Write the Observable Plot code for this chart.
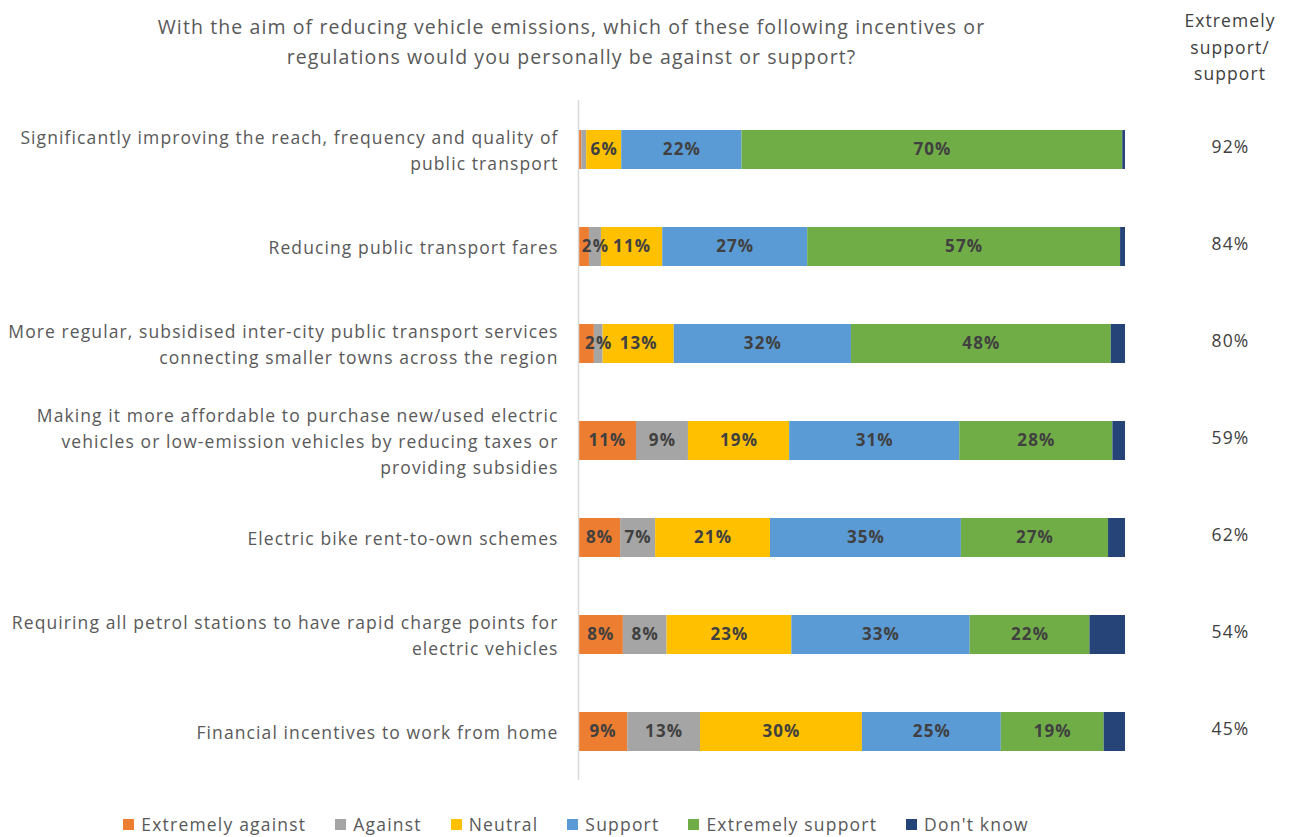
<!DOCTYPE html>
<html>
<head>
<meta charset="utf-8">
<script src="https://cdn.jsdelivr.net/npm/d3@7"></script>
<script src="https://cdn.jsdelivr.net/npm/@observablehq/plot@0.6"></script>
<style>
  html, body { margin: 0; padding: 0; background: #fff; }
  body { width: 1293px; height: 837px; overflow: hidden; font-family: "Open Sans", "Noto Sans", sans-serif; color: #595959; letter-spacing: 1.1px; }
  #header { position: relative; height: 90px; }
  #title { position: absolute; left: 0; width: 1143px; top: 12px; text-align: center; font-size: 19.5px; line-height: 30px; }
  #rhead { position: absolute; left: 1150px; width: 160px; top: 7px; text-align: center; font-size: 17.5px; line-height: 26.5px; color: #404040; }
  #legend { display: flex; justify-content: center; gap: 29px; width: 1152px; margin-top: 22px; font-size: 17.5px; letter-spacing: 1.2px; }
  #legend .item { display: flex; align-items: center; gap: 7px; }
  #legend .sw { width: 11px; height: 11px; display: inline-block; }
</style>
</head>
<body>
<div id="header">
  <div id="title">With the aim of reducing vehicle emissions, which of these following incentives or<br>regulations would you personally be against or support?</div>
  <div id="rhead">Extremely<br>support/<br>support</div>
</div>
<div id="chart"></div>
<div id="legend"></div>
<script>
const questions = [
  "Significantly improving the reach, frequency and quality of\npublic transport",
  "Reducing public transport fares",
  "More regular, subsidised inter-city public transport services\nconnecting smaller towns across the region",
  "Making it more affordable to purchase new/used electric\nvehicles or low-emission vehicles by reducing taxes or\nproviding subsidies",
  "Electric bike rent-to-own schemes",
  "Requiring all petrol stations to have rapid charge points for\nelectric vehicles",
  "Financial incentives to work from home"
];
const seriesNames = ["Extremely against", "Against", "Neutral", "Support", "Extremely support", "Don't know"];
const seriesColors = ["#ED7D31", "#A5A5A5", "#FFC000", "#5B9BD5", "#70AD47", "#264478"];

const extremelyAgainst = [0.6, 2.0, 2.9, 10.6, 7.7, 8.2, 9.0];
const against          = [0.9, 2.2, 1.6, 9.5, 6.4, 8.0, 13.3];
const neutral          = [6.4, 11.2, 13.0, 18.5, 21.0, 22.8, 29.6];
const support          = [22.0, 26.5, 32.4, 31.1, 34.9, 32.6, 25.4];
const extremelySupport = [69.6, 57.2, 47.5, 28.0, 26.9, 21.9, 18.8];
const dontKnow         = [0.5, 0.9, 2.6, 2.3, 3.1, 6.5, 3.9];

const extremelyAgainstLabels = ["", "", "", "11%", "8%", "8%", "9%"];
const againstLabels          = ["", "2%", "2%", "9%", "7%", "8%", "13%"];
const neutralLabels          = ["6%", "11%", "13%", "19%", "21%", "23%", "30%"];
const supportLabels          = ["22%", "27%", "32%", "31%", "35%", "33%", "25%"];
const extremelySupportLabels = ["70%", "57%", "48%", "28%", "27%", "22%", "19%"];
const dontKnowLabels         = ["", "", "", "", "", "", ""];

const totalSupport = ["92%", "84%", "80%", "59%", "62%", "54%", "45%"];

const seriesValues = [extremelyAgainst, against, neutral, support, extremelySupport, dontKnow];
const seriesLabels = [extremelyAgainstLabels, againstLabels, neutralLabels, supportLabels, extremelySupportLabels, dontKnowLabels];

const data = [];
seriesNames.forEach((s, si) => {
  questions.forEach((q, qi) => {
    data.push({question: q, series: s, value: seriesValues[si][qi], label: seriesLabels[si][qi]});
  });
});
const totals = questions.map((q, i) => ({question: q, text: totalSupport[i]}));

const chart = Plot.plot({
  width: 1293,
  height: 700,
  marginLeft: 578,
  marginRight: 168,
  marginTop: 10,
  marginBottom: 10,
  style: {fontFamily: "'Open Sans', 'Noto Sans', sans-serif", background: "white", letterSpacing: "1.1px"},
  x: {domain: [0, 100], axis: null},
  y: {domain: questions, paddingInner: 0.6, paddingOuter: 0.3, axis: null},
  color: {domain: seriesNames, range: seriesColors},
  marks: [
    Plot.barX(data, Plot.stackX({x: "value", y: "question", fill: "series", z: "series", order: seriesNames})),
    Plot.ruleX([0], {stroke: "#d9d9d9", strokeWidth: 1.5}),
    Plot.text(data, Plot.stackX({x: "value", y: "question", z: "series", order: seriesNames, text: "label", fill: "#404040", fontWeight: "bold", fontSize: 17})),
    Plot.text(questions, {x: 0, y: d => d, text: d => d, textAnchor: "end", dx: -20, dy: -1.5, fill: "#595959", fontSize: 17.5, lineHeight: 1.5}),
    Plot.text(totals, {y: "question", text: "text", frameAnchor: "right", dx: 105, dy: -3, textAnchor: "middle", fill: "#404040", fontSize: 17.5})
  ]
});
document.getElementById("chart").appendChild(chart);

const legend = document.getElementById("legend");
seriesNames.forEach((s, i) => {
  const it = document.createElement("div");
  it.className = "item";
  it.innerHTML = `<span class="sw" style="background:${seriesColors[i]}"></span><span>${s}</span>`;
  legend.appendChild(it);
});
</script>
</body>
</html>
